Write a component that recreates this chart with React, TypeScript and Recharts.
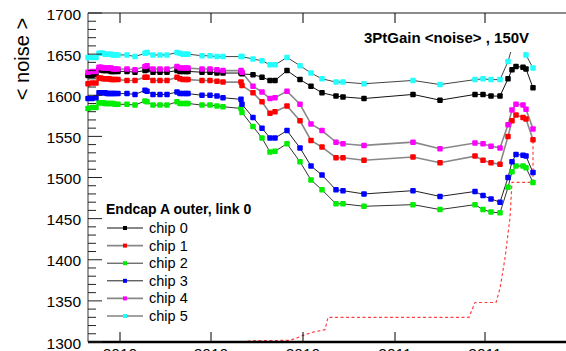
import React from 'react';
import { LineChart, Line, XAxis, YAxis, Legend } from 'recharts';

// x values are days counted from the first tick (first label "2010")
const days = [
  -32, -28, -24, -21, -19, -17, -15, -13, -11, -9, -7, -5, -2,
  7, 15, 25, 27, 33, 40, 47, 57, 60, 63, 66, 68,
  82, 90, 97, 103, 121, 122, 133, 142, 150, 155,
  167, 180, 191, 202, 216, 223, 244, 293, 320,
  355, 363, 371, 380, 388, 392, 396, 403, 406, 413,
];

const chip0 = [
  1624, 1624, 1625, 1631, 1631, 1630, 1630, 1630, 1630, 1629, 1629, 1629, 1629,
  1629, 1628, 1630, 1631, 1628, 1628, 1628, 1630, 1629, 1629, 1629, 1629,
  1628, 1628, 1627, 1627, 1627, 1626, 1625, 1622, 1618, 1618,
  1630, 1619, 1611, 1603, 1599, 1598, 1596, 1601, 1594,
  1601, 1601, 1599, 1599, 1620, 1631, 1635, 1634, 1632, 1609,
];
const chip1 = [
  1614, 1615, 1615, 1621, 1621, 1620, 1620, 1620, 1620, 1619, 1619, 1619, 1619,
  1618, 1618, 1622, 1622, 1618, 1618, 1618, 1622, 1620, 1619, 1619, 1619,
  1618, 1618, 1617, 1616, 1616, 1612, 1603, 1592, 1578, 1580,
  1587, 1569, 1545, 1537, 1524, 1524, 1521, 1525, 1518,
  1526, 1521, 1518, 1516, 1550, 1569, 1576, 1573, 1571, 1546,
];
const chip2 = [
  1584, 1585, 1585, 1591, 1591, 1591, 1590, 1590, 1590, 1590, 1590, 1589, 1589,
  1589, 1588, 1593, 1592, 1588, 1588, 1588, 1592, 1590, 1590, 1590, 1590,
  1588, 1588, 1587, 1586, 1584, 1579, 1562, 1548, 1531, 1532,
  1541, 1519, 1497, 1485, 1468, 1468, 1465, 1467, 1461,
  1467, 1461, 1458, 1457, 1488, 1507, 1514, 1514, 1512, 1494,
];
const chip3 = [
  1596, 1596, 1597, 1603, 1603, 1603, 1603, 1602, 1602, 1602, 1602, 1602, 1602,
  1602, 1601, 1606, 1605, 1601, 1601, 1601, 1604, 1602, 1602, 1602, 1602,
  1600, 1600, 1599, 1597, 1595, 1589, 1573, 1560, 1548, 1548,
  1557, 1536, 1514, 1503, 1485, 1484, 1480, 1484, 1477,
  1483, 1478, 1474, 1470, 1500, 1519, 1528, 1527, 1526, 1506,
];
const chip4 = [
  1628, 1629, 1629, 1634, 1634, 1633, 1633, 1633, 1633, 1633, 1632, 1632, 1632,
  1632, 1631, 1635, 1636, 1632, 1632, 1632, 1635, 1633, 1633, 1633, 1633,
  1632, 1632, 1631, 1630, 1630, 1628, 1611, 1604, 1596, 1597,
  1605, 1589, 1565, 1557, 1543, 1541, 1539, 1543, 1535,
  1542, 1541, 1538, 1536, 1564, 1582, 1589, 1588, 1583, 1559,
];
const chip5 = [
  1646, 1646, 1646, 1651, 1651, 1651, 1650, 1650, 1650, 1650, 1649, 1649, 1649,
  1649, 1647, 1651, 1652, 1649, 1649, 1649, 1652, 1651, 1650, 1650, 1650,
  1648, 1648, 1647, 1647, 1647, 1647, 1644, 1642, 1637, 1637,
  1646, 1636, 1627, 1620, 1616, 1616, 1614, 1618, 1613,
  1619, 1620, 1619, 1619, 1641, 1658, 1662, 1658, 1649, 1633,
];

// red dashed reference curve
const refDays = [-32, 123, 130, 170, 177, 183, 193, 205, 208, 349, 355, 376, 380, 385, 390, 392, 410, 413, 413];
const refValues = [1300, 1300, 1301.5, 1302, 1305, 1308, 1312, 1315, 1330, 1330, 1348, 1348, 1365, 1402, 1451, 1494, 1494, 1494, 1546];

const chipNames = ['chip 0', 'chip 1', 'chip 2', 'chip 3', 'chip 4', 'chip 5'];
const chipSeries = [chip0, chip1, chip2, chip3, chip4, chip5];
const markerColors = ['#000000', '#ff0000', '#00ee00', '#0000ff', '#ff00ff', '#22ffff'];
const lineColors = ['#111', '#888', '#333', '#222', '#888', '#444'];
const lineWidths = [1, 1.6, 1, 1, 1.6, 1];

const xTicks = [0, 91, 183, 275, 365];
const xTickLabels = ['2010', '2010', '2010', '2011', '2011'];
const yMajorTicks = [1300, 1350, 1400, 1450, 1500, 1550, 1600, 1650, 1700];

const yTicks: number[] = [];
yMajorTicks.forEach((t, i) => {
  yTicks.push(t);
  if (i < yMajorTicks.length - 1) {
    for (let k = 1; k < 5; k++) yTicks.push(t + k * 10);
  }
});

const chipData = days.map((d, i) => {
  const row: Record<string, number> = { day: d };
  chipSeries.forEach((s, c) => (row['chip' + c] = s[i]));
  return row;
});
const refData = refDays.map((d, i) => ({ day: d, ref: refValues[i] }));

const FONT = '"Liberation Sans", Arial, Helvetica, sans-serif';

const LeftTick = (props: any) => {
  const { x, y, payload } = props;
  const major = payload.value % 50 === 0;
  return (
    <g>
      <line x1={x} x2={x + (major ? 14 : 8)} y1={y} y2={y} stroke="#222" />
      {major && (
        <text x={x - 7} y={y + 6.5} textAnchor="end" fontSize={15.5} fill="#000">
          {payload.value}
        </text>
      )}
    </g>
  );
};

const RightTick = (props: any) => {
  const { x, y, payload } = props;
  const major = payload.value % 50 === 0;
  return <line x1={x} x2={x - (major ? 15 : 8)} y1={y} y2={y} stroke="#222" />;
};

const BottomTick = (props: any) => {
  const { x, y, payload } = props;
  return (
    <g>
      <line x1={x} x2={x} y1={y} y2={y - 10} stroke="#000" />
      <text x={x} y={y + 17} textAnchor="middle" fontSize={15.5} fill="#000">
        {xTickLabels[xTicks.indexOf(payload.value)]}
      </text>
    </g>
  );
};

const TopTick = (props: any) => {
  const { x, y } = props;
  return <line x1={x} x2={x} y1={y} y2={y + 10} stroke="#000" />;
};

const squareDot = (color: string) => (p: any) => (
  <rect key={p.index} x={p.cx - 2.75} y={p.cy - 2.75} width={5.5} height={5.5} rx={1} fill={color} />
);

const LegendBox = () => (
  <svg width={170} height={130} style={{ display: 'block', fontFamily: FONT }}>
    <text x={6} y={14} fontSize={14} fontWeight="bold" fill="#000">
      Endcap A outer, link 0
    </text>
    {chipNames.map((name, i) => {
      const cy = 28 + i * 17.6;
      return (
        <g key={name}>
          <line x1={7} x2={43} y1={cy} y2={cy} stroke={lineColors[i]} strokeWidth={lineWidths[i]} />
          <rect x={23} y={cy - 2} width={4} height={4} fill={markerColors[i]} />
          <text x={49} y={cy + 5} fontSize={14.5} fill="#000">
            {name}
          </text>
        </g>
      );
    })}
  </svg>
);

export default function App() {
  return (
    <div
      style={{
        position: 'absolute',
        left: 0,
        top: 0,
        width: 566,
        height: 351,
        overflow: 'hidden',
        background: '#fff',
        fontFamily: FONT,
      }}
    >
      <LineChart
        width={600}
        height={380}
        data={chipData}
        margin={{ top: 0, right: 0, bottom: 0, left: 0 }}
      >
        <XAxis
          dataKey="day"
          type="number"
          domain={[-32, 454]}
          ticks={xTicks}
          interval={0}
          height={38}
          tickSize={0}
          tickMargin={0}
          tickLine={false}
          tick={<BottomTick />}
          axisLine={{ stroke: '#000', strokeWidth: 2.5 }}
        />
        <XAxis
          xAxisId="top"
          orientation="top"
          dataKey="day"
          type="number"
          domain={[-32, 454]}
          ticks={xTicks}
          interval={0}
          height={13}
          tickSize={0}
          tickMargin={0}
          tickLine={false}
          tick={<TopTick />}
          axisLine={{ stroke: '#666', strokeWidth: 1.5 }}
        />
        <YAxis
          type="number"
          domain={[1300, 1700]}
          ticks={yTicks}
          interval={0}
          width={88}
          tickSize={0}
          tickMargin={0}
          tickLine={false}
          tick={<LeftTick />}
          axisLine={{ stroke: '#333' }}
        />
        <YAxis
          yAxisId="right"
          orientation="right"
          type="number"
          domain={[1300, 1700]}
          ticks={yTicks}
          interval={0}
          width={26}
          tickSize={0}
          tickMargin={0}
          tickLine={false}
          tick={<RightTick />}
          axisLine={{ stroke: '#333' }}
        />
        <Legend
          layout="vertical"
          align="center"
          verticalAlign="middle"
          wrapperStyle={{ position: 'absolute', left: 100, top: 200, width: 170 }}
          content={<LegendBox />}
        />
        <Line
          data={refData}
          dataKey="ref"
          type="linear"
          stroke="#ff4040"
          strokeWidth={1.2}
          strokeDasharray="3 2.5"
          dot={false}
          legendType="none"
          isAnimationActive={false}
        />
        {chipNames.map((name, i) => (
          <Line
            key={name}
            name={name}
            dataKey={'chip' + i}
            type="linear"
            stroke={lineColors[i]}
            strokeWidth={lineWidths[i]}
            dot={squareDot(markerColors[i])}
            activeDot={false}
            isAnimationActive={false}
          />
        ))}
      </LineChart>
      <svg
        width={566}
        height={351}
        style={{ position: 'absolute', left: 0, top: 0, pointerEvents: 'none' }}
      >
        <text
          x={29}
          y={59}
          transform="rotate(-90 29 59)"
          textAnchor="middle"
          fontSize={20}
          fill="#000"
        >
          {'< noise >'}
        </text>
        <rect x={355} y={24} width={190} height={28} fill="#fff" />
        <text x={364} y={43} fontSize={15} fontWeight="bold" fill="#000">
          {'3PtGain <noise> , 150V'}
        </text>
      </svg>
    </div>
  );
}
